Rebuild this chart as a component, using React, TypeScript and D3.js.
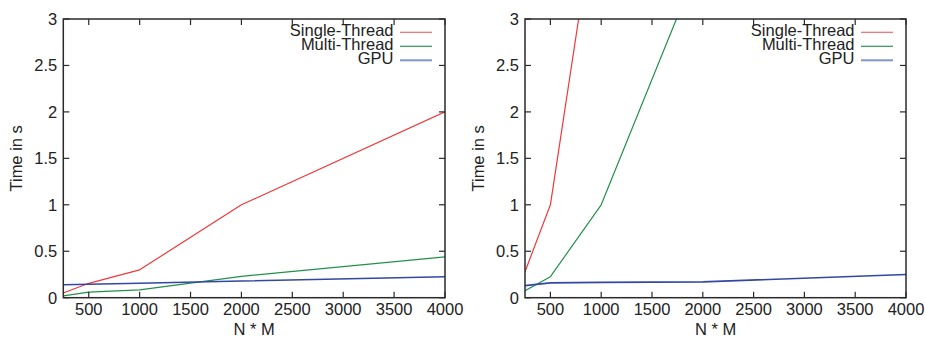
import { useEffect, useRef } from "react";
import * as d3 from "d3";

const X_VALUES = [250, 500, 1000, 2000, 4000];
const X_TICKS = [500, 1000, 1500, 2000, 2500, 3000, 3500, 4000];
const Y_TICKS = [0, 0.5, 1, 1.5, 2, 2.5, 3];
const Y_TICK_LABELS = ["0", "0.5", "1", "1.5", "2", "2.5", "3"];
const SERIES_NAMES = ["Single-Thread", "Multi-Thread", "GPU"];

// left panel
const LEFT_SINGLE = [0.05, 0.155, 0.3, 1.0, 2.0];
const LEFT_MULTI = [0.02, 0.06, 0.085, 0.23, 0.44];
const LEFT_GPU = [0.14, 0.145, 0.155, 0.18, 0.225];

// right panel (values past the top of the frame are estimates / unknown)
const RIGHT_SINGLE: (number | null)[] = [0.28, 1.0, 4.6, null, null];
const RIGHT_MULTI: (number | null)[] = [0.075, 0.226, 1.0, 3.7, null];
const RIGHT_GPU = [0.13, 0.16, 0.165, 0.17, 0.25];

const COLORS = ["#f0393a", "#22904a", "#3347a5"];
const LEGEND_COLORS = ["#f06a6a", "#2e9655", "#8494cc"];
const WIDTHS = [1.2, 1.2, 1.6];

const FONT = "'Liberation Sans', Arial, Helvetica, sans-serif";

interface PanelProps {
  left: number;
  right: number;
  series: (number | null)[][];
  id: string;
}

function Panel({ left, right, series, id }: PanelProps) {
  const gRef = useRef<SVGGElement>(null);

  useEffect(() => {
    const g = d3.select(gRef.current);
    g.selectAll("*").remove();

    const top = 19;
    const bottom = 297.7;

    const x = d3.scaleLinear().domain([250, 4000]).range([left, right]);
    const y = d3.scaleLinear().domain([0, 3]).range([bottom, top]);

    // clip for lines
    g.append("clipPath")
      .attr("id", `clip-${id}`)
      .append("rect")
      .attr("x", left)
      .attr("y", top)
      .attr("width", right - left)
      .attr("height", bottom - top);

    // series lines
    series.forEach((vals, i) => {
      const pts = X_VALUES.map((xv, j) => ({ x: xv, v: vals[j] }));
      const line = d3
        .line<{ x: number; v: number | null }>()
        .defined((d) => d.v !== null)
        .x((d) => x(d.x))
        .y((d) => y(d.v as number));
      g.append("path")
        .datum(pts)
        .attr("clip-path", `url(#clip-${id})`)
        .attr("fill", "none")
        .attr("stroke", COLORS[i])
        .attr("stroke-width", WIDTHS[i])
        .attr("stroke-linejoin", "round")
        .attr("d", line);
    });

    const tickLen = 6;
    const axisColor = "#2a2a2a";

    // x ticks (bottom and top, inward)
    X_TICKS.forEach((t) => {
      g.append("line")
        .attr("x1", x(t)).attr("x2", x(t))
        .attr("y1", bottom).attr("y2", bottom - tickLen)
        .attr("stroke", axisColor).attr("stroke-width", 1.2);
      g.append("line")
        .attr("x1", x(t)).attr("x2", x(t))
        .attr("y1", top).attr("y2", top + tickLen)
        .attr("stroke", axisColor).attr("stroke-width", 1.2);
      g.append("text")
        .attr("x", x(t))
        .attr("y", 315)
        .attr("text-anchor", "middle")
        .attr("font-family", FONT)
        .attr("font-size", "16.5px")
        .attr("fill", "#222")
        .text(String(t));
    });

    // y ticks (left and right, inward)
    Y_TICKS.forEach((t, i) => {
      g.append("line")
        .attr("x1", left).attr("x2", left + tickLen)
        .attr("y1", y(t)).attr("y2", y(t))
        .attr("stroke", axisColor).attr("stroke-width", 1.2);
      g.append("line")
        .attr("x1", right).attr("x2", right - tickLen)
        .attr("y1", y(t)).attr("y2", y(t))
        .attr("stroke", axisColor).attr("stroke-width", 1.2);
      g.append("text")
        .attr("x", left - 6)
        .attr("y", y(t) + 6)
        .attr("text-anchor", "end")
        .attr("font-family", FONT)
        .attr("font-size", "16.5px")
        .attr("fill", "#222")
        .text(Y_TICK_LABELS[i]);
    });

    // frame
    g.append("rect")
      .attr("x", left)
      .attr("y", top)
      .attr("width", right - left)
      .attr("height", bottom - top)
      .attr("fill", "none")
      .attr("stroke", axisColor)
      .attr("stroke-width", 1.5);

    // axis labels
    g.append("text")
      .attr("x", (left + right) / 2)
      .attr("y", 335)
      .attr("text-anchor", "middle")
      .attr("font-family", FONT)
      .attr("font-size", "16.5px")
      .attr("fill", "#222")
      .text("N * M");

    g.append("text")
      .attr("transform", `translate(${left - 41},${(top + bottom) / 2}) rotate(-90)`)
      .attr("text-anchor", "middle")
      .attr("font-family", FONT)
      .attr("font-size", "16.5px")
      .attr("fill", "#222")
      .text("Time in s");

    // legend
    SERIES_NAMES.forEach((name, i) => {
      const ly = 32.3 + i * 14;
      g.append("text")
        .attr("x", right - 51.5)
        .attr("y", ly + 4)
        .attr("text-anchor", "end")
        .attr("font-family", FONT)
        .attr("font-size", "16.5px")
        .attr("fill", "#222")
        .text(name);
      g.append("line")
        .attr("x1", right - 45)
        .attr("x2", right - 13)
        .attr("y1", ly)
        .attr("y2", ly)
        .attr("stroke", LEGEND_COLORS[i])
        .attr("stroke-width", i === 2 ? 2 : 1.2);
    });
  }, [left, right, series, id]);

  return <g ref={gRef} />;
}

export default function App() {
  return (
    <svg
      width={925}
      height={337}
      style={{ position: "absolute", left: 0, top: 0, background: "#fff" }}
    >
      <Panel id="l" left={63.3} right={445} series={[LEFT_SINGLE, LEFT_MULTI, LEFT_GPU]} />
      <Panel id="r" left={525} right={906} series={[RIGHT_SINGLE, RIGHT_MULTI, RIGHT_GPU]} />
    </svg>
  );
}
